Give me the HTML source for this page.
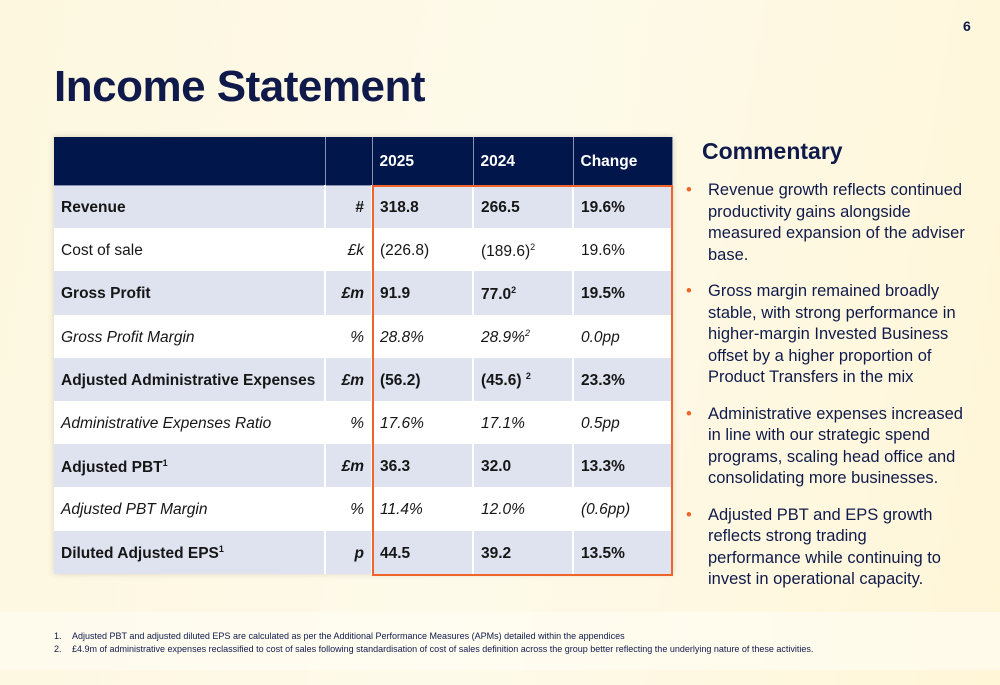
<!DOCTYPE html>
<html><head><meta charset="utf-8"><style>
body{margin:0;width:1000px;height:685px;overflow:hidden;font-family:"Liberation Sans",sans-serif;color:#0f1a4b;
background:linear-gradient(100deg,#fdf7df 0%,#fefaea 50%,#fff6d8 100%);position:relative}
.band{position:absolute;left:0;top:612px;width:1000px;height:58px;background:rgba(255,253,245,0.6)}
h1{position:absolute;left:54px;top:62px;margin:0;font-size:44px;font-weight:bold;letter-spacing:-0.5px}
.pg{position:absolute;left:963px;top:18px;font-size:14px;font-weight:bold}
table{position:absolute;left:54px;top:137px;border-collapse:collapse;font-size:15.5px;box-shadow:0 0 6px rgba(0,0,0,0.15)}
td{height:43.2px;padding:3px 7px 0;box-sizing:border-box;border-right:2px solid #fff;border-bottom:0;color:#161616}
tr.h td{background:#01174c;color:#fff;font-weight:bold;height:48px;border-right:1px solid #8a92b0;border-bottom:1px solid #8a92b0}
tr.s td{background:#dfe3f0}
tr.w td{background:#fff}
.b td{font-weight:bold}.i td{font-style:italic}
td.u{text-align:right;width:47px}
.box{position:absolute;left:372px;top:185px;width:301px;height:391px;border:2px solid #f0642a;box-sizing:border-box}
h2{position:absolute;left:702px;top:138px;margin:0;font-size:23px}
ul{position:absolute;left:686px;top:180px;width:282px;margin:0;padding:0;list-style:none;font-size:16.5px;line-height:21.5px}
li{position:relative;padding-left:22px;margin-bottom:15px}
li.last{padding-right:20px}
li:before{content:"•";color:#f0642a;position:absolute;left:0}
.fn{position:absolute;left:54px;top:630px;font-size:9px;line-height:13px}
.fn span{display:inline-block;width:18px}
sup{font-size:9px}
</style></head><body>
<div class="band"></div>
<div class="pg">6</div>
<h1>Income Statement</h1>
<table>
<tr class="h"><td style="width:271px"></td><td class="u"></td><td style="width:101px">2025</td><td style="width:100px">2024</td><td style="width:99px">Change</td></tr>
<tr class="s b"><td>Revenue</td><td class="u">#</td><td>318.8</td><td>266.5</td><td>19.6%</td></tr>
<tr class="w"><td>Cost of sale</td><td class="u"><i>£k</i></td><td>(226.8)</td><td>(189.6)<sup>2</sup></td><td>19.6%</td></tr>
<tr class="s b"><td>Gross Profit</td><td class="u"><i>£m</i></td><td>91.9</td><td>77.0<sup>2</sup></td><td>19.5%</td></tr>
<tr class="w i"><td>Gross Profit Margin</td><td class="u">%</td><td>28.8%</td><td>28.9%<sup>2</sup></td><td>0.0pp</td></tr>
<tr class="s b"><td>Adjusted Administrative Expenses</td><td class="u"><i>£m</i></td><td>(56.2)</td><td>(45.6) <sup>2</sup></td><td>23.3%</td></tr>
<tr class="w i"><td>Administrative Expenses Ratio</td><td class="u">%</td><td>17.6%</td><td>17.1%</td><td>0.5pp</td></tr>
<tr class="s b"><td>Adjusted PBT<sup>1</sup></td><td class="u"><i>£m</i></td><td>36.3</td><td>32.0</td><td>13.3%</td></tr>
<tr class="w i"><td>Adjusted PBT Margin</td><td class="u">%</td><td>11.4%</td><td>12.0%</td><td>(0.6pp)</td></tr>
<tr class="s b"><td>Diluted Adjusted EPS<sup>1</sup></td><td class="u"><i>p</i></td><td>44.5</td><td>39.2</td><td>13.5%</td></tr>
</table>
<div class="box"></div>
<h2>Commentary</h2>
<ul>
<li>Revenue growth reflects continued productivity gains alongside measured expansion of the adviser base.</li>
<li>Gross margin remained broadly stable, with strong performance in higher-margin Invested Business offset by a higher proportion of Product Transfers in the mix</li>
<li>Administrative expenses increased in line with our strategic spend programs, scaling head office and consolidating more businesses.</li>
<li class="last">Adjusted PBT and EPS growth reflects strong trading performance while continuing to invest in operational capacity.</li>
</ul>
<div class="fn">
<div><span>1.</span>Adjusted PBT and adjusted diluted EPS are calculated as per the Additional Performance Measures (APMs) detailed within the appendices</div>
<div><span>2.</span>£4.9m of administrative expenses reclassified to cost of sales following standardisation of cost of sales definition across the group  better reflecting the underlying nature of these activities.</div>
</div>
</body></html>
